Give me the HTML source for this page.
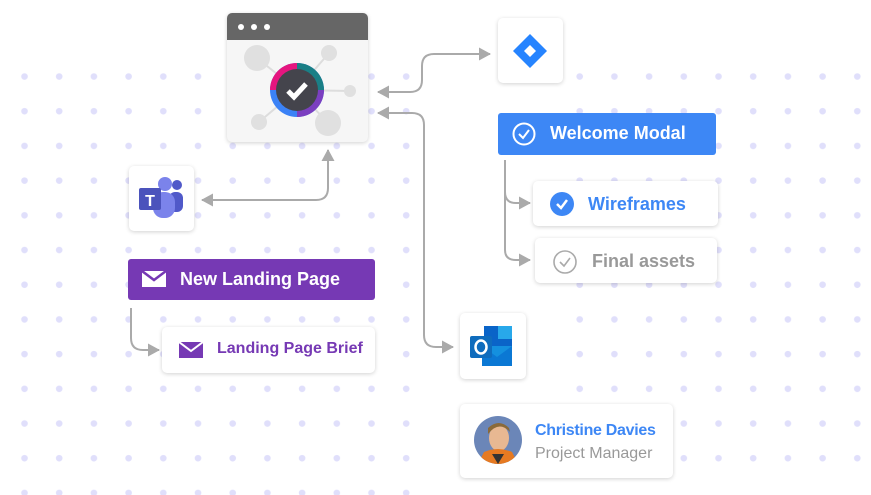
<!DOCTYPE html>
<html><head><meta charset="utf-8"><style>
body{margin:0;width:871px;height:495px;overflow:hidden;background:#fff;font-family:"Liberation Sans",sans-serif;position:relative}
.card{position:absolute;background:#fff;border-radius:5px;box-shadow:0 1px 4px rgba(0,0,0,.18)}
.t{position:absolute;font-weight:bold;white-space:nowrap}
</style></head><body>
<svg width="871" height="495" style="position:absolute;left:0;top:0">
<defs>
<pattern id="d" x="7" y="59" width="34.7" height="34.7" patternUnits="userSpaceOnUse"><circle cx="17.5" cy="17.5" r="3.3" fill="#e0dffb"/></pattern>
<marker id="a" markerWidth="14" markerHeight="14" refX="11" refY="6.5" orient="auto-start-reverse" markerUnits="userSpaceOnUse"><path d="M0,0 L12,6.5 L0,13z" fill="#aaa"/></marker>
</defs>
<rect x="10" y="60" width="400" height="435" fill="url(#d)"/>
<rect x="560" y="60" width="311" height="410" fill="url(#d)"/>
<g fill="none" stroke="#aaa" stroke-width="2">
<path d="M378,92 H410 Q422,92 422,80 V66 Q422,54 434,54 H490" marker-end="url(#a)" marker-start="url(#a)"/>
<path d="M378,113 H412 Q424,113 424,125 V335 Q424,347 436,347 H453" marker-end="url(#a)" marker-start="url(#a)"/>
<path d="M202,200 H316 Q328,200 328,188 V150" marker-end="url(#a)" marker-start="url(#a)"/>
<path d="M505,160 V192 Q505,203 516,203 H530" marker-end="url(#a)"/>
<path d="M505,190 V250 Q505,260 516,260 H530" marker-end="url(#a)"/>
<path d="M131,308 V338 Q131,350 143,350 H159" marker-end="url(#a)"/>
</g>
</svg>
<div class="card" style="left:227px;top:13px;width:141px;height:129px;background:#f6f6f6;overflow:hidden">
<div style="height:27px;background:#666"></div>
<div style="position:absolute;left:11px;top:11px;width:6px;height:6px;border-radius:50%;background:#fff;box-shadow:13px 0 #fff,26px 0 #fff"></div>
</div>
<svg width="141" height="105" style="position:absolute;left:227px;top:40px">
<g stroke="#ddd" stroke-width="2"><line x1="30" y1="18" x2="70" y2="50"/><line x1="102" y1="13" x2="70" y2="50"/><line x1="123" y1="51" x2="70" y2="50"/><line x1="32" y1="82" x2="70" y2="50"/><line x1="101" y1="83" x2="70" y2="50"/></g>
<g fill="#e0e0e0"><circle cx="30" cy="18" r="13"/><circle cx="102" cy="13" r="8"/><circle cx="123" cy="51" r="6"/><circle cx="32" cy="82" r="8"/><circle cx="101" cy="83" r="13"/></g>
<circle cx="70" cy="50" r="27" fill="#3b82f6"/>
<path d="M70,50 L43,50 A27,27 0 0 1 70,23z" fill="#e6157f"/>
<path d="M70,50 L70,23 A27,27 0 0 1 97,50z" fill="#1a7f86"/>
<path d="M70,50 L97,50 A27,27 0 0 1 70,77z" fill="#7b3fc0"/>
<circle cx="70" cy="50" r="21" fill="#44444c"/>
<path d="M61,51 L67,57 L79,44" stroke="#fff" stroke-width="5" fill="none"/>
</svg>
<div class="card" style="left:498px;top:18px;width:65px;height:65px"></div>
<svg width="40" height="40" style="position:absolute;left:511px;top:31px"><path d="M19,3 L36,20 L19,37 L2,20z" fill="#2684ff"/><path d="M19,14 L25,20 L19,26 L13,20z" fill="#fff"/></svg>
<div style="position:absolute;left:498px;top:113px;width:218px;height:42px;background:#3d87f5;border-radius:3px"></div>
<svg width="26" height="26" style="position:absolute;left:511px;top:121px"><circle cx="13" cy="13" r="10.5" stroke="#fff" stroke-width="2" fill="none"/><path d="M8,13 L12,17 L18,9" stroke="#fff" stroke-width="2" fill="none"/></svg>
<div class="t" style="left:550px;top:123px;font-size:18px;color:#fff">Welcome Modal</div>
<div class="card" style="left:533px;top:181px;width:185px;height:45px"></div>
<svg width="26" height="26" style="position:absolute;left:549px;top:191px"><circle cx="13" cy="13" r="12" fill="#3d87f5"/><path d="M8,13 L12,17 L18,9" stroke="#fff" stroke-width="2.5" fill="none"/></svg>
<div class="t" style="left:588px;top:194px;font-size:18px;color:#3d87f5">Wireframes</div>
<div class="card" style="left:535px;top:238px;width:182px;height:45px"></div>
<svg width="26" height="26" style="position:absolute;left:552px;top:249px"><circle cx="13" cy="13" r="11" stroke="#aaa" stroke-width="1.6" fill="none"/><path d="M8,13 L12,17 L18,9" stroke="#aaa" stroke-width="1.6" fill="none"/></svg>
<div class="t" style="left:592px;top:251px;font-size:18px;color:#999">Final assets</div>
<div class="card" style="left:129px;top:166px;width:65px;height:65px"></div>
<svg width="50" height="44" style="position:absolute;left:137px;top:176px"><circle cx="40" cy="9" r="5" fill="#5059c9"/><rect x="32" y="16" width="14" height="20" rx="6" fill="#5059c9"/><circle cx="28" cy="8" r="7" fill="#7b83eb"/><rect x="16" y="16" width="22" height="26" rx="10" fill="#7b83eb"/><rect x="2" y="12" width="22" height="22" rx="2" fill="#4b53bc"/><text x="13" y="30" font-size="16" font-weight="bold" fill="#fff" text-anchor="middle" font-family="Liberation Sans">T</text></svg>
<div style="position:absolute;left:128px;top:259px;width:247px;height:41px;background:#7639b4;border-radius:3px"></div>
<svg width="26" height="18" style="position:absolute;left:142px;top:271px"><rect x="0" y="0" width="24" height="16" fill="#fff"/><path d="M0,0 L12,9 L24,0" stroke="#7639b4" stroke-width="2.5" fill="none"/></svg>
<div class="t" style="left:180px;top:269px;font-size:18px;color:#fff">New Landing Page</div>
<div class="card" style="left:162px;top:327px;width:213px;height:46px"></div>
<svg width="26" height="18" style="position:absolute;left:179px;top:342px"><rect x="0" y="0" width="24" height="16" fill="#7639b4"/><path d="M0,0 L12,9 L24,0" stroke="#fff" stroke-width="2" fill="none"/></svg>
<div class="t" style="left:217px;top:340px;font-size:16px;color:#7639b4">Landing Page Brief</div>
<div class="card" style="left:460px;top:313px;width:66px;height:66px"></div>
<svg width="46" height="42" style="position:absolute;left:470px;top:326px"><rect x="14" y="0" width="28" height="26" fill="#0a64c8"/><rect x="28" y="0" width="14" height="13" fill="#28a8ea"/><path d="M12,20 L42,20 L42,40 L12,40z" fill="#1490df"/><path d="M12,20 L27,31 L42,20 L42,40 L12,40z" fill="#0b78d4"/><rect x="0" y="10" width="22" height="22" rx="2" fill="#0f6cbd"/><ellipse cx="11" cy="21" rx="5.5" ry="6.5" stroke="#fff" stroke-width="2.5" fill="none"/></svg>
<div class="card" style="left:460px;top:404px;width:213px;height:74px"></div>
<svg width="50" height="50" style="position:absolute;left:474px;top:416px"><defs><clipPath id="c"><circle cx="24" cy="24" r="24"/></clipPath></defs><g clip-path="url(#c)"><rect width="48" height="48" fill="#6b86b8"/><ellipse cx="25" cy="22" rx="10" ry="13" fill="#e8b892"/><path d="M14,18 Q25,4 36,16 L35,12 Q25,2 14,12z" fill="#8a6a3a"/><path d="M4,48 L10,36 Q24,30 38,36 L44,48z" fill="#e67a22"/><path d="M18,38 L24,48 L30,38z" fill="#333"/></g></svg>
<div class="t" style="left:535px;top:422px;font-size:16px;color:#3d87f5;letter-spacing:-0.3px">Christine Davies</div>
<div style="position:absolute;left:535px;top:445px;font-size:16px;color:#999;white-space:nowrap">Project Manager</div>
</body></html>
